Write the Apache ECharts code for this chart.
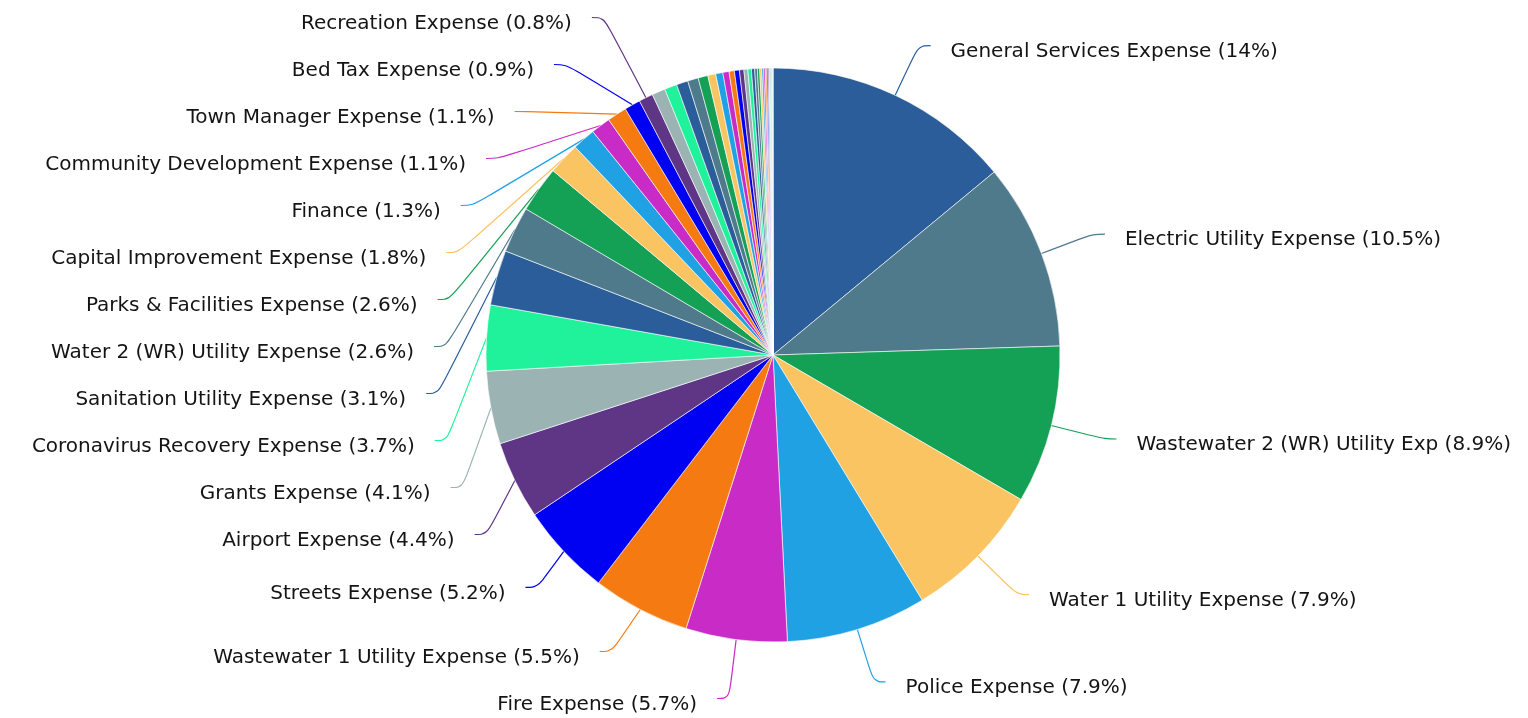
<!DOCTYPE html>
<html>
<head>
<meta charset="utf-8">
<title>Expenses by Department</title>
<script src="https://cdn.jsdelivr.net/npm/echarts@6/dist/echarts.min.js"></script>
<style>
  html, body { margin: 0; padding: 0; background: #ffffff; }
  #chart { width: 1528px; height: 718px; }
</style>
</head>
<body>
<div id="chart"></div>
<script>
// Departments with a printed share (percent of total expense), largest first
const deptNames = [
  'General Services Expense',
  'Electric Utility Expense',
  'Wastewater 2 (WR) Utility Exp',
  'Water 1 Utility Expense',
  'Police Expense',
  'Fire Expense',
  'Wastewater 1 Utility Expense',
  'Streets Expense',
  'Airport Expense',
  'Grants Expense',
  'Coronavirus Recovery Expense',
  'Sanitation Utility Expense',
  'Water 2 (WR) Utility Expense',
  'Parks & Facilities Expense',
  'Capital Improvement Expense',
  'Finance',
  'Community Development Expense',
  'Town Manager Expense',
  'Bed Tax Expense',
  'Recreation Expense'
];
const deptShares = [14, 10.5, 8.9, 7.9, 7.9, 5.7, 5.5, 5.2, 4.4, 4.1, 3.7, 3.1, 2.6, 2.6, 1.8, 1.3, 1.1, 1.1, 0.9, 0.8];

// Remaining small funds, too thin to carry a label
const minorShares = [0.75, 0.7, 0.65, 0.6, 0.55, 0.45, 0.4, 0.35, 0.3, 0.28, 0.25, 0.22, 0.2, 0.18, 0.15,
                     0.13, 0.12, 0.1, 0.09, 0.08, 0.07, 0.06, 0.05, 0.04, 0.04, 0.03, 0.03, 0.02, 0.01];
const minorNames = minorShares.map((_, i) => 'Other Fund ' + (i + 1));

const palette = ['#2b5d9a', '#4f7a8c', '#14a055', '#fbc462', '#1fa1e4', '#c92bc7',
                 '#f57a12', '#0000f2', '#5f3585', '#9bb3b3', '#1ff29b'];

// Leader length by where the slice sits (fraction of the turn, clockwise from 12 o'clock):
// the left-hand column of labels is kept clear of the pie, and the topmost label
// climbs to the top of the column.
function leaderLength(mid) {
  if (mid > 0.925) return 95;
  if (mid > 0.89) return 55;
  if (mid > 0.81) return 60;
  if (mid > 0.65) return 70;
  return 55;
}

const total = deptShares.concat(minorShares).reduce((a, b) => a + b, 0);
let acc = 0;
const labeled = deptNames.map((n, i) => {
  const mid = (acc + deptShares[i] / 2) / total;
  acc += deptShares[i];
  return { name: n, value: deptShares[i], labelLine: { length: leaderLength(mid) } };
});

const pieData = labeled.concat(minorNames.map((n, i) => ({
  name: n, value: minorShares[i],
  label: { show: false }, labelLine: { show: false }
})));

const chart = echarts.init(document.getElementById('chart'), null, { renderer: 'canvas' });
chart.setOption({
  animation: false,
  color: palette,
  series: [{
    type: 'pie',
    // layout box reaches a little past the canvas so the label column can use the full height
    left: 0,
    top: -5,
    width: 1528,
    height: 733,
    center: [773, 360],
    radius: 287,
    startAngle: 90,
    clockwise: true,
    avoidLabelOverlap: true,
    data: pieData,
    itemStyle: { borderColor: '#ffffff', borderWidth: 0.6 },
    label: {
      show: true,
      position: 'outer',
      formatter: p => p.name + ' (' + p.value + '%)',
      fontFamily: 'DejaVu Sans',
      fontSize: 20,
      color: '#141414',
      lineHeight: 45,
      offset: [0, 6],
      distanceToLabelLine: 20
    },
    labelLine: {
      show: true,
      length: 55,
      length2: 12,
      smooth: 0.4,
      lineStyle: { width: 1.2 }
    },
    emphasis: { disabled: true }
  }]
});
</script>
</body>
</html>
